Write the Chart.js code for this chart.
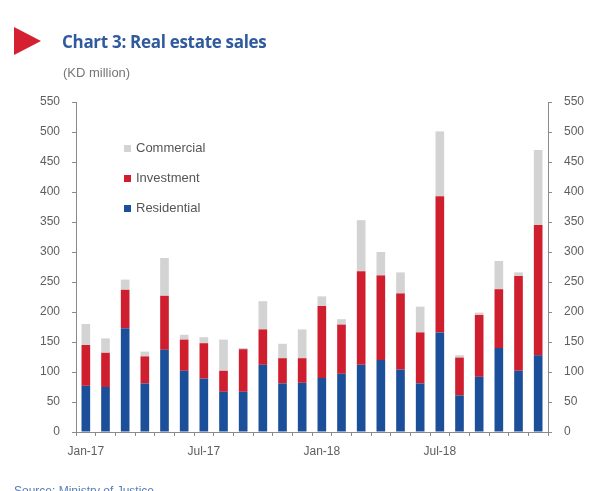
<!DOCTYPE html>
<html>
<head>
<meta charset="utf-8">
<script src="https://cdn.jsdelivr.net/npm/chart.js@4"></script>
<style>
  body { margin: 0; background: #fff; }
  #wrap { position: relative; width: 605px; height: 491px; overflow: hidden; font-family: "Liberation Sans", Arial, sans-serif; }
  #chart { position: absolute; left: 0; top: 0; }
  .tri { position: absolute; left: 14px; top: 27px; width: 0; height: 0;
         border-top: 14px solid transparent; border-bottom: 14px solid transparent; border-left: 27px solid #d42030; }
  .title { position: absolute; left: 62px; top: 30px; font: bold 17px "Open Sans", sans-serif; color: #2f5a9e; letter-spacing: -0.3px; }
  .sub { position: absolute; left: 63px; top: 65px; font-size: 13px; color: #777; }
  .src { position: absolute; left: 14px; top: 484px; font-size: 12px; color: #5a7fb5; }
  .legend { position: absolute; left: 124px; top: 140px; font-size: 13px; color: #555; }
  .legend div { height: 30px; display: flex; align-items: flex-start; }
  .legend span.sw { display: inline-block; width: 7px; height: 7px; margin: 5px 5px 0 0; }
</style>
</head>
<body>
<div id="wrap">
  <canvas id="chart" width="605" height="491"></canvas>
  <div class="tri"></div>
  <div class="title">Chart 3: Real estate sales</div>
  <div class="sub">(KD million)</div>
  <div class="legend" id="legend"></div>
  <div class="src">Source: Ministry of Justice</div>
</div>
<script>
(function () {

const BLUE = '#1c4f9a';
const RED = '#cf1f2e';
const GREY = '#d3d3d3';

const months = ['Jan-17','Feb-17','Mar-17','Apr-17','May-17','Jun-17','Jul-17','Aug-17','Sep-17','Oct-17','Nov-17','Dec-17',
                'Jan-18','Feb-18','Mar-18','Apr-18','May-18','Jun-18','Jul-18','Aug-18','Sep-18','Oct-18','Nov-18','Dec-18'];
const residential = [77, 75, 173, 81, 137, 102, 89, 67, 67, 112, 81, 82, 90, 97, 112, 120, 104, 81, 166, 61, 92, 140, 102, 128];
const investment  = [68, 57, 64, 45, 90, 52, 59, 35, 71, 59, 42, 41, 120, 82, 156, 141, 127, 85, 227, 63, 103, 98, 158, 217];
const commercial  = [35, 24, 17, 8, 63, 8, 10, 52, 2, 47, 24, 48, 16, 9, 85, 39, 35, 43, 108, 4, 4, 47, 6, 125];
const yTicks = [0, 50, 100, 150, 200, 250, 300, 350, 400, 450, 500, 550];

const datasets = [
  { label: 'Residential', data: residential, backgroundColor: BLUE },
  { label: 'Investment', data: investment, backgroundColor: RED },
  { label: 'Commercial', data: commercial, backgroundColor: GREY },
].map(d => Object.assign(d, { barPercentage: 0.44, categoryPercentage: 1, borderWidth: 0 }));

const tickFont = { family: '"Liberation Sans", Arial, sans-serif', size: 12 };
const axisColor = '#8a8a8a';

function yAxis(position, width) {
  return {
    position, stacked: true, min: 0, max: 550,
    afterBuildTicks: s => { s.ticks = yTicks.map(v => ({ value: v })); },
    afterFit: s => { s.width = width; },
    border: { display: true, color: axisColor },
    grid: { drawOnChartArea: false, drawTicks: true, tickLength: 4, color: axisColor },
    ticks: { color: '#5e5e5e', font: tickFont, padding: 12 },
  };
}

new Chart(document.getElementById('chart'), {
  type: 'bar',
  data: { labels: months, datasets },
  options: {
    responsive: false, animation: false,
    layout: { padding: { top: 102, left: 0, right: 0, bottom: 0 } },
    plugins: { legend: { display: false }, tooltip: { enabled: false } },
    scales: {
      x: {
        stacked: true,
        afterFit: s => { s.height = 59; },
        border: { display: true, color: axisColor },
        grid: { offset: true, drawOnChartArea: false, drawTicks: true, tickLength: 4, color: axisColor },
        ticks: { autoSkip: false, maxRotation: 0, color: '#5e5e5e', font: tickFont, padding: 8,
                 callback: (v, i) => i % 6 === 0 ? months[i] : '' },
      },
      y: yAxis('left', 76),
      y2: yAxis('right', 57),
    },
  },
});

document.getElementById('legend').innerHTML = datasets.slice().reverse().map(d =>
  `<div><span class="sw" style="background:${d.backgroundColor}"></span>${d.label}</div>`
).join('');

})();
</script>
</body>
</html>
